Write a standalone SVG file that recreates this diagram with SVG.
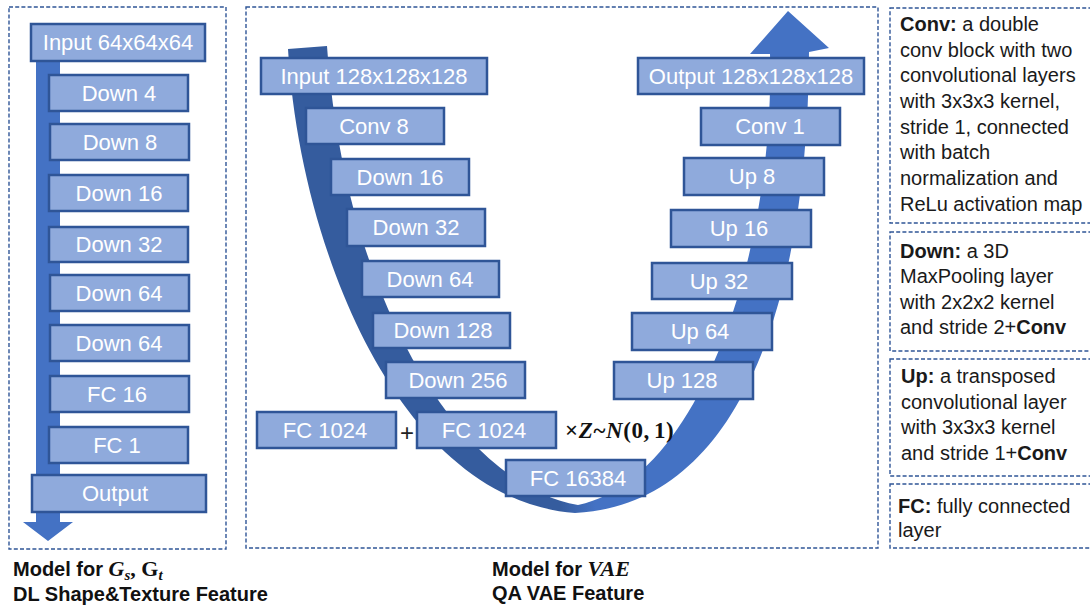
<svg xmlns="http://www.w3.org/2000/svg" width="1090" height="607" viewBox="0 0 1090 607">
<defs>
<style>
.panel{fill:none;stroke:#2F5597;stroke-width:1.4;stroke-dasharray:4 2.2}
.box rect{fill:#8FAADC;stroke:#2F5597;stroke-width:2.5}
.box text{fill:#fff;font-family:"Liberation Sans",Arial,sans-serif;font-size:22px;text-anchor:middle}
.note{font-family:"Liberation Sans",Arial,sans-serif;font-size:20px;fill:#1a1a1a}
.b{font-weight:bold}
.cap{font-family:"Liberation Sans",Arial,sans-serif;font-size:20px;font-weight:bold;fill:#111}
.math{font-family:"Liberation Serif","DejaVu Serif",serif;font-weight:bold}
</style>
<linearGradient id="band" gradientUnits="userSpaceOnUse" x1="560" y1="0" x2="595" y2="0">
<stop offset="0" stop-color="#355C9E"/>
<stop offset="1" stop-color="#4472C4"/>
</linearGradient>
</defs>
<rect width="1090" height="607" fill="#fff"/>

<g id="panels">
<rect class="panel" x="9" y="7" width="217" height="542"/>
<rect class="panel" x="246" y="7" width="632" height="541"/>
<rect class="panel" x="890" y="8" width="204" height="215"/>
<rect class="panel" x="890" y="232" width="204" height="119"/>
<rect class="panel" x="890" y="359" width="204" height="117"/>
<rect class="panel" x="890" y="484" width="204" height="64"/>
</g>

<g id="connectors">
<path d="M36,58 H60 V522 H73 L48,541 L23,522 H36 Z" fill="#4472C4"/>
<path d="M288,49 C300,250 400,500 575,513 C740,505 808,300 809,52 L829,48 L788,11 L750,54 L770,54 C775,250 700,480 578,505 C460,485 345,300 327,46 Z" fill="url(#band)"/>
</g>

<g id="left-model">
<g class="box" id="n-input64"><rect x="31" y="24" width="174" height="37"/><text x="118" y="50.2">Input 64x64x64</text></g>
<g class="box" id="n-down4"><rect x="49" y="75" width="139" height="36"/><text x="119" y="100.7">Down 4</text></g>
<g class="box" id="n-down8"><rect x="50" y="124" width="139" height="36"/><text x="120" y="149.7">Down 8</text></g>
<g class="box" id="n-down16"><rect x="49" y="175" width="139" height="36"/><text x="119" y="200.7">Down 16</text></g>
<g class="box" id="n-down32"><rect x="49" y="227" width="139" height="35"/><text x="119" y="252.2">Down 32</text></g>
<g class="box" id="n-down64a"><rect x="50" y="275" width="139" height="36"/><text x="119" y="300.7">Down 64</text></g>
<g class="box" id="n-down64b"><rect x="50" y="325" width="139" height="36"/><text x="119" y="350.7">Down 64</text></g>
<g class="box" id="n-fc16"><rect x="50" y="376" width="139" height="36"/><text x="117" y="401.7">FC 16</text></g>
<g class="box" id="n-fc1"><rect x="49" y="427" width="139" height="36"/><text x="117" y="452.7">FC 1</text></g>
<g class="box" id="n-output"><rect x="32" y="475" width="174" height="37"/><text x="115" y="501.2">Output</text></g>
</g>

<g id="vae-model">
<g class="box" id="n-input128"><rect x="261" y="58" width="226" height="36"/><text x="374" y="83.7">Input 128x128x128</text></g>
<g class="box" id="n-conv8"><rect x="306" y="108" width="138" height="36"/><text x="374" y="133.7">Conv 8</text></g>
<g class="box" id="n-down16m"><rect x="331" y="159" width="138" height="36"/><text x="400" y="184.7">Down 16</text></g>
<g class="box" id="n-down32m"><rect x="347" y="209" width="138" height="37"/><text x="416" y="235.2">Down 32</text></g>
<g class="box" id="n-down64m"><rect x="362" y="261" width="137" height="36"/><text x="430" y="286.7">Down 64</text></g>
<g class="box" id="n-down128"><rect x="373" y="313" width="137" height="35"/><text x="443" y="338.2">Down 128</text></g>
<g class="box" id="n-down256"><rect x="386" y="362" width="139" height="36"/><text x="458" y="387.7">Down 256</text></g>
<g class="box" id="n-fc1024a"><rect x="257" y="412" width="139" height="36"/><text x="325" y="437.7">FC 1024</text></g>
<g class="box" id="n-fc1024b"><rect x="417" y="412" width="139" height="36"/><text x="484" y="437.7">FC 1024</text></g>
<g class="box" id="n-fc16384"><rect x="506" y="460" width="139" height="36"/><text x="578" y="485.7">FC 16384</text></g>
<g class="box" id="n-output128"><rect x="638" y="58" width="226" height="36"/><text x="751" y="83.7">Output 128x128x128</text></g>
<g class="box" id="n-conv1"><rect x="701" y="108" width="139" height="37"/><text x="770" y="134.2">Conv 1</text></g>
<g class="box" id="n-up8"><rect x="684" y="158" width="140" height="37"/><text x="752" y="184.2">Up 8</text></g>
<g class="box" id="n-up16"><rect x="671" y="210" width="140" height="37"/><text x="739" y="236.2">Up 16</text></g>
<g class="box" id="n-up32"><rect x="652" y="263" width="140" height="36"/><text x="719" y="288.7">Up 32</text></g>
<g class="box" id="n-up64"><rect x="632" y="313" width="140" height="37"/><text x="700" y="339.2">Up 64</text></g>
<g class="box" id="n-up128"><rect x="614" y="362" width="139" height="37"/><text x="682" y="388.2">Up 128</text></g>
<text x="407" y="441" font-family="Liberation Sans,Arial,sans-serif" font-size="24" fill="#222" text-anchor="middle">+</text>
<text class="math" x="565" y="438" font-size="23" fill="#111" letter-spacing="0.6">×<tspan font-style="italic">Z</tspan>~<tspan font-style="italic">N</tspan>(0,<tspan dx="4">1</tspan>)</text>
</g>

<g id="legend">
<text class="note" x="900" y="31"><tspan class="b">Conv:</tspan> a double</text>
<text class="note" x="900" y="57">conv block with two</text>
<text class="note" x="900" y="82">convolutional layers</text>
<text class="note" x="900" y="108">with 3x3x3 kernel,</text>
<text class="note" x="900" y="134">stride 1, connected</text>
<text class="note" x="900" y="159">with batch</text>
<text class="note" x="900" y="185">normalization and</text>
<text class="note" x="900" y="211">ReLu activation map</text>
<text class="note" x="900" y="258"><tspan class="b">Down:</tspan> a 3D</text>
<text class="note" x="900" y="283">MaxPooling layer</text>
<text class="note" x="900" y="309">with 2x2x2 kernel</text>
<text class="note" x="900" y="334">and stride 2+<tspan class="b">Conv</tspan></text>
<text class="note" x="901" y="383"><tspan class="b">Up:</tspan> a transposed</text>
<text class="note" x="901" y="409">convolutional layer</text>
<text class="note" x="901" y="434">with 3x3x3 kernel</text>
<text class="note" x="901" y="460">and stride 1+<tspan class="b">Conv</tspan></text>
<text class="note" x="898" y="513"><tspan class="b">FC:</tspan> fully connected</text>
<text class="note" x="898" y="537">layer</text>
</g>

<g id="captions">
<text class="cap" x="13" y="576">Model for <tspan class="math" font-style="italic" font-size="22">G</tspan><tspan class="math" font-style="italic" font-size="15" dy="4">s</tspan><tspan class="math" font-size="22" dy="-4">, G</tspan><tspan class="math" font-style="italic" font-size="15" dy="4">t</tspan></text>
<text class="cap" x="13" y="601">DL Shape&amp;Texture Feature</text>
<text class="cap" x="492" y="576">Model for <tspan class="math" font-style="italic" font-size="22">VAE</tspan></text>
<text class="cap" x="492" y="600">QA VAE Feature</text>
</g>
</svg>
